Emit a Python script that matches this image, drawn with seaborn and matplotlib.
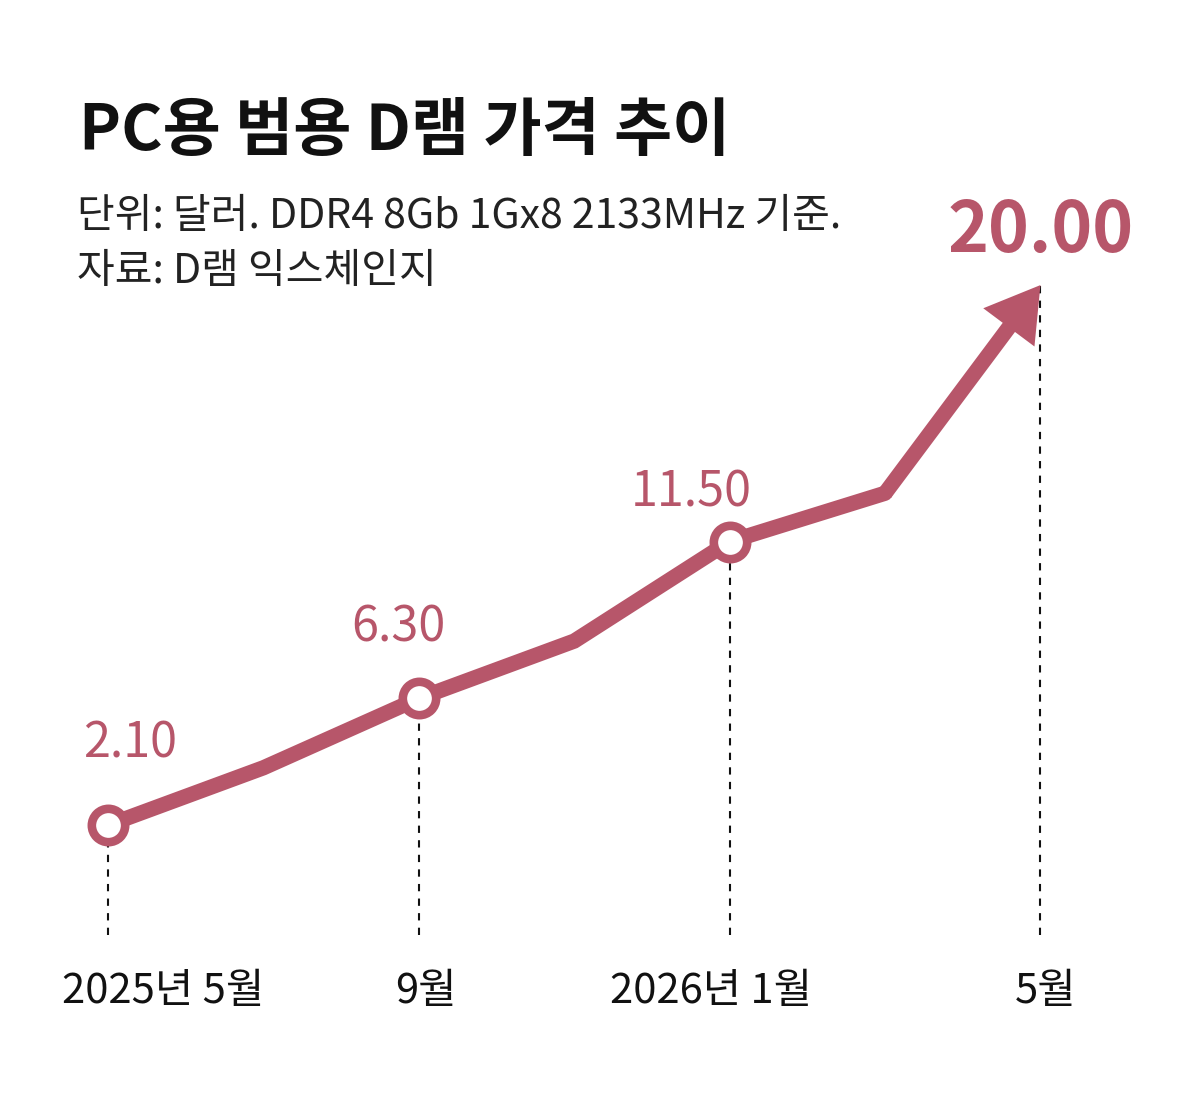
import pandas as pd
import matplotlib.pyplot as plt
import seaborn as sns

# --- data ---
month_index = [0, 2, 4, 6, 8, 10, 12]          # months since 2025-05
prices = [2.10, 4.0, 6.30, 8.2, 11.50, 13.1, 20.00]
labeled_index = [0, 4, 8, 12]
labeled_prices = [2.10, 6.30, 11.50, 20.00]
value_labels = ['2.10', '6.30', '11.50', '20.00']
tick_labels = ['2025년 5월', '9월', '2026년 1월', '5월']

title = 'PC용 범용 D램 가격 추이'
subtitle_1 = '단위: 달러. DDR4 8Gb 1Gx8 2133MHz 기준.'
subtitle_2 = '자료: D램 익스체인지'

pink = '#b7566a'
sns.set_theme(style='white')
plt.rcParams['font.family'] = ['Noto Sans CJK KR', 'DejaVu Sans']

df = pd.DataFrame({'idx': month_index, 'price': prices})

fig = plt.figure(figsize=(12.04, 10.96), dpi=100)
ax = fig.add_axes([0, 0, 1, 1])
ax.set_xlim(-1.39, 14.105)
ax.set_ylim(-6.88, 29.45)
ax.axis('off')

# dashed guide lines down to a common baseline
base = -1.55
ax.vlines(labeled_index, base, labeled_prices, colors='#111111',
          linestyles=(0, (3.5, 3.5)), linewidth=1.5, zorder=1)

# line without the last segment, the last one is the arrow
sns.lineplot(data=df.iloc[:-1], x='idx', y='price', color=pink, linewidth=11,
             ax=ax, zorder=3, solid_joinstyle='miter', solid_capstyle='round')
ax.annotate('', xy=(month_index[-1], prices[-1]), xytext=(month_index[-2], prices[-2]),
            arrowprops=dict(arrowstyle='simple,head_length=38,head_width=46,tail_width=11',
                            mutation_scale=1, color=pink, lw=0, shrinkA=0, shrinkB=0),
            zorder=3)

# hollow markers on labelled months (except the arrow tip)
ax.scatter(labeled_index[:-1], labeled_prices[:-1], s=24 ** 2, facecolor='white',
           edgecolor=pink, linewidth=6.2, zorder=4)

# value labels
offsets = [(22, 68), (-20, 57), (-38, 35), (0, 33)]
for i, (x, y, lab) in enumerate(zip(labeled_index, labeled_prices, value_labels)):
    last = i == len(value_labels) - 1
    ax.annotate(lab, (x, y), xytext=offsets[i], textcoords='offset pixels',
                ha='center', va='baseline', color=pink,
                fontsize=50 if last else 35, fontweight='bold' if last else 'normal')

# x labels
tick_y = -3.8
tick_dx = [55, 7, -19, 5]
for x, lab, dx in zip(labeled_index, tick_labels, tick_dx):
    ax.annotate(lab, (x, tick_y), xytext=(dx, 0), textcoords='offset pixels',
                ha='center', va='baseline', color='#111111', fontsize=30)

# titles
fig.text(0.066, 1 - 150 / 1096, title, fontsize=45.5, fontweight='bold', color='#111111')
fig.text(0.064, 1 - 228 / 1096, subtitle_1, fontsize=29.5, color='#222222')
fig.text(0.064, 1 - 283 / 1096, subtitle_2, fontsize=29.5, color='#222222')

plt.savefig('out.png', dpi=100)
